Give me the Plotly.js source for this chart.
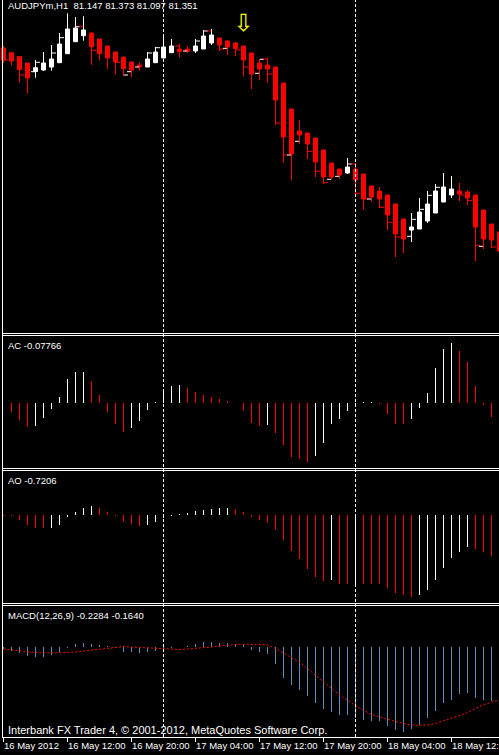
<!DOCTYPE html>
<html><head><meta charset="utf-8">
<script src="https://cdn.plot.ly/plotly-3.0.1.min.js"></script>
<style>html,body{margin:0;padding:0;background:#000;overflow:hidden}#chart{width:499px;height:755px}</style>
</head><body><div id="chart"></div>
<script>
// ---- data ----
const barIndex = Array.from({length: 63}, (_, i) => i);   // hourly bars, 16 May 2012 04:00 -> 18 May 2012 18:00
const timeTickIndex = [0, 8, 16, 24, 32, 40, 48, 56];
const timeTickLabels = ['16 May 2012', '16 May 12:00', '16 May 20:00', '17 May 04:00',
                        '17 May 12:00', '17 May 20:00', '18 May 04:00', '18 May 12:00'];
const daySeparatorIndex = [20, 44];

const openPrice = [81.520,81.473,81.433,81.370,81.285,81.300,81.330,81.373,81.463,81.583,
  81.643,81.670,81.610,81.540,81.480,81.430,81.380,81.350,81.330,81.373,
  81.420,81.473,81.510,81.510,81.490,81.510,81.570,81.620,81.590,81.570,
  81.540,81.470,81.370,81.350,81.330,81.170,80.910,80.690,80.670,80.620,
  80.500,80.370,80.310,80.270,80.310,80.260,80.140,80.090,80.050,79.960,
  79.810,79.700,79.710,79.790,79.870,79.980,80.050,80.090,80.080,80.050,
  79.900,79.760,79.680];
const highPrice = [81.540,81.473,81.440,81.370,81.400,81.480,81.550,81.670,81.867,81.830,
  81.837,81.670,81.610,81.540,81.480,81.430,81.380,81.380,81.480,81.530,
  81.630,81.610,81.560,81.540,81.610,81.700,81.710,81.620,81.600,81.580,
  81.540,81.470,81.410,81.420,81.330,81.170,80.910,80.800,80.670,80.620,
  80.500,80.370,80.310,80.420,80.370,80.260,80.140,80.130,80.050,79.960,
  79.810,79.870,80.020,80.090,80.160,80.270,80.240,80.170,80.100,80.050,
  79.900,79.760,79.680];
const lowPrice = [81.370,81.343,81.175,81.065,81.223,81.290,81.293,81.373,81.463,81.583,
  81.593,81.353,81.400,81.313,81.253,81.240,81.233,81.295,81.330,81.373,
  81.420,81.473,81.423,81.470,81.470,81.510,81.550,81.490,81.450,81.440,
  81.240,81.110,81.200,81.170,80.750,80.370,80.200,80.560,80.410,80.230,
  80.160,80.210,80.210,80.260,80.050,79.900,79.980,79.920,79.700,79.430,
  79.470,79.580,79.710,79.770,79.870,79.980,80.020,79.990,79.950,79.390,
  79.510,79.520,79.400];
const closePrice = [81.400,81.390,81.305,81.220,81.323,81.370,81.410,81.560,81.710,81.720,
  81.700,81.533,81.463,81.420,81.380,81.315,81.300,81.333,81.410,81.480,
  81.530,81.540,81.485,81.487,81.540,81.640,81.650,81.550,81.530,81.515,
  81.400,81.260,81.310,81.310,81.000,80.630,80.460,80.650,80.560,80.380,
  80.230,80.230,80.250,80.330,80.200,80.010,80.030,80.010,79.850,79.660,
  79.610,79.730,79.880,79.960,80.090,80.130,80.110,80.060,80.020,79.730,
  79.610,79.600,79.490];

// small price marks drawn beside some candles (bar, side of the wick, price, up-colour?)
const markIndex = [0,2,4,4,6,7,9,10,11,14,15,16,17,18,19,22,23,24,25,26,27,28,29,30,32,32,33,33,
  34,35,36,37,38,39,40,41,42,43,44,44,45,46,47,48,49,51,51,52,53,54,57,58,59,60,61];
const markSide = ['R','R','L','R','R','R','R','L','R','R','R','L','L','R','R','L','L','R','R','L','R','L','R','R','R','L','L','R',
  'R','R','L','L','R','R','R','L','L','R','L','R','R','L','R','R','R','R','L','R','R','R','R','R','R','L','R'];
const markPrice = [81.400,81.250,81.283,81.377,81.470,81.623,81.733,81.737,81.497,81.377,81.250,81.283,81.330,81.470,81.523,
  81.540,81.490,81.590,81.690,81.690,81.510,81.517,81.500,81.330,81.407,81.267,81.410,81.260,
  80.770,80.450,80.450,80.587,80.487,80.287,80.173,80.207,80.237,80.360,80.360,80.067,80.010,80.010,
  79.927,79.777,79.630,79.807,79.637,79.907,80.047,80.127,80.050,79.997,79.547,79.537,79.530];
const markUp = [0,0,1,1,1,1,1,0,0,0,1,1,1,1,1,0,1,1,1,0,0,1,0,0,1,1,0,0,
  0,0,1,1,0,0,0,1,1,1,0,0,0,1,0,0,0,1,1,1,1,1,0,0,0,1,0];

const signalArrowIndex = [30];
const signalArrowPrice = [81.755];

const acValues = [null,-0.0435,-0.085,-0.1185,-0.1135,-0.075,-0.030,0.030,0.120,0.155,
  0.1565,0.110,0.040,-0.0435,-0.105,-0.1435,-0.1235,-0.0885,-0.035,0.0065,
  0.060,0.085,0.090,0.075,0.055,0.040,0.030,0.020,0.010,0.0015,
  -0.040,-0.0985,-0.1135,-0.1085,-0.1485,-0.2085,-0.2685,-0.2785,-0.2935,-0.2635,
  -0.1985,-0.1035,-0.0785,-0.0385,-0.010,0.0035,0.0045,-0.0025,-0.0535,-0.1035,
  -0.105,-0.0785,-0.0235,0.050,0.175,0.270,0.300,0.260,0.205,0.085,
  -0.0075,-0.0685,-0.07766];

const aoValues = [-0.0083,-0.0132,-0.0776,-0.1601,-0.2096,-0.2145,-0.2096,-0.1601,-0.0281,0.0545,
  0.1205,0.1485,0.1155,0.0545,-0.0116,-0.1106,-0.1485,-0.1766,-0.1601,-0.1205,
  -0.0495,-0.0165,0.0215,0.0380,0.0660,0.0825,0.1040,0.1089,0.1155,0.1040,
  0.0545,-0.0281,-0.0776,-0.1271,-0.2426,-0.4076,-0.5891,-0.7211,-0.8861,-1.0181,
  -1.0841,-1.0676,-1.1336,-1.1385,-1.1303,-1.1352,-1.1385,-1.1418,-1.1996,-1.2821,
  -1.3151,-1.3481,-1.3151,-1.2326,-1.0676,-0.8696,-0.7046,-0.6056,-0.5231,-0.5561,
  -0.6056,-0.6716,-0.7206];

const macdMain = [-0.008,-0.016,-0.024,-0.036,-0.040,-0.040,-0.032,-0.020,-0.004,0.012,
  0.016,0.012,0.008,0.004,-0.004,-0.020,-0.020,-0.024,-0.020,-0.016,
  -0.012,-0.004,0.002,0.004,0.012,0.020,0.020,0.016,0.016,0.012,
  0.012,-0.012,-0.0188,-0.028,-0.0668,-0.124,-0.152,-0.172,-0.196,-0.2228,
  -0.2468,-0.2588,-0.2708,-0.2708,-0.2828,-0.292,-0.2948,-0.2948,-0.3148,-0.3308,
  -0.3388,-0.3268,-0.3132,-0.2828,-0.2548,-0.2228,-0.2108,-0.188,-0.1828,-0.204,
  -0.2108,-0.2148,-0.2284];
const macdSignal = [-0.008,-0.012,-0.016,-0.020,-0.022,-0.024,-0.024,-0.024,-0.022,-0.020,
  -0.016,-0.012,-0.008,-0.004,0.000,0.002,0.000,-0.002,-0.004,-0.006,
  -0.008,-0.010,-0.010,-0.008,-0.006,-0.004,0.000,0.004,0.008,0.010,
  0.0108,0.0108,0.0108,0.0092,-0.006,-0.0228,-0.0428,-0.060,-0.086,-0.112,
  -0.138,-0.164,-0.192,-0.214,-0.2348,-0.254,-0.270,-0.280,-0.290,-0.298,
  -0.306,-0.312,-0.3132,-0.312,-0.306,-0.296,-0.286,-0.274,-0.262,-0.248,
  -0.2308,-0.2212,-0.212];

// ---- drawing ----
const W = 499, H = 755;
const RED = '#ff0000', WHITE = '#ffffff', MACD_BLUE = '#5b8fc0';
const py = p => 1 - p / H;          // pixel row -> paper fraction
const px = p => p / W;
function dirColors(vals) {
  return vals.map((v, i) => (i > 0 && vals[i - 1] !== null && v > vals[i - 1]) ? WHITE : RED);
}
const SIDE_OFFSET = 0.3;

const traces = [
  {type: 'candlestick', x: barIndex, open: openPrice, high: highPrice, low: lowPrice, close: closePrice,
   xaxis: 'x', yaxis: 'y', whiskerwidth: 0, hoverinfo: 'skip',
   increasing: {line: {color: WHITE, width: 1}, fillcolor: WHITE},
   decreasing: {line: {color: RED, width: 1}, fillcolor: RED}},
  {type: 'scatter', mode: 'markers', xaxis: 'x', yaxis: 'y', hoverinfo: 'skip',
   x: markIndex.map((i, k) => i + (markSide[k] === 'R' ? SIDE_OFFSET : -SIDE_OFFSET)), y: markPrice,
   marker: {symbol: 'line-ew', size: 3, line: {width: 1, color: markUp.map(u => u ? WHITE : RED)}}},
  {type: 'scatter', mode: 'text', x: signalArrowIndex, y: signalArrowPrice, text: ['\u21E9'],
   textfont: {family: 'DejaVu Sans', size: 24, color: '#ffff00'}, xaxis: 'x', yaxis: 'y', hoverinfo: 'skip'},
  {type: 'bar', x: barIndex, y: acValues, xaxis: 'x', yaxis: 'y2', width: 0.13,
   marker: {color: dirColors(acValues), line: {width: 0}}, hoverinfo: 'skip'},
  {type: 'bar', x: barIndex, y: aoValues, xaxis: 'x', yaxis: 'y3', width: 0.13,
   marker: {color: dirColors(aoValues), line: {width: 0}}, hoverinfo: 'skip'},
  {type: 'bar', x: barIndex, y: macdMain, xaxis: 'x', yaxis: 'y4', width: 0.13,
   marker: {color: MACD_BLUE, line: {width: 0}}, hoverinfo: 'skip'},
  {type: 'scatter', mode: 'lines', x: barIndex, y: macdSignal, xaxis: 'x', yaxis: 'y4',
   line: {color: RED, width: 1, dash: '2px,2px'}, hoverinfo: 'skip'}
];

const hidden = {visible: false, fixedrange: true, showgrid: false, zeroline: false};
const shapes = [];
daySeparatorIndex.forEach(i => shapes.push({type: 'line', xref: 'x', yref: 'paper', x0: i, x1: i,
  y0: py(737), y1: 1, line: {color: WHITE, width: 1, dash: '3px,2px'}, layer: 'above'}));
[333.5, 335.5, 468.5, 470.5, 603.5, 605.5, 737.5].forEach(r => shapes.push({type: 'line', xref: 'paper',
  yref: 'paper', x0: px(2), x1: 1, y0: py(r), y1: py(r), line: {color: WHITE, width: 1}}));
shapes.push({type: 'line', xref: 'paper', yref: 'paper', x0: px(2.5), x1: px(2.5), y0: py(737.5), y1: 1,
  line: {color: WHITE, width: 1}});

const lab = (txt, row, size) => ({text: txt, xref: 'paper', yref: 'paper', x: px(6), y: py(row),
  xanchor: 'left', yanchor: 'middle', showarrow: false,
  font: {family: 'Liberation Sans', size: size, color: WHITE}});

const layout = {
  width: W, height: H, margin: {l: 0, r: 0, t: 0, b: 0, pad: 0},
  paper_bgcolor: '#000', plot_bgcolor: '#000', showlegend: false,
  boxgap: 0.5, boxgroupgap: 0, bargap: 0,
  xaxis: {range: [-0.4375, 61.9375], domain: [0, 1], anchor: 'y4', fixedrange: true,
    showgrid: false, zeroline: false, showline: false,
    tickmode: 'array', tickvals: timeTickIndex, ticktext: timeTickLabels,
    ticks: 'outside', ticklen: 4, tickwidth: 1, tickcolor: WHITE, tickangle: 0,
    ticklabelposition: 'outside right', ticklabelstandoff: 0, ticklabeloverflow: 'allow',
    tickfont: {family: 'Liberation Sans', size: 9.5, color: WHITE},
    rangeslider: {visible: false}},
  yaxis: Object.assign({domain: [py(333), 1], range: [78.67, 82.00], anchor: 'x'}, hidden),
  yaxis2: Object.assign({domain: [py(468), py(335)], range: [-0.325, 0.34], anchor: 'x'}, hidden),
  yaxis3: Object.assign({domain: [py(603), py(470)], range: [-1.452, 0.7425], anchor: 'x'}, hidden),
  yaxis4: Object.assign({domain: [py(737), py(605)], range: [-0.36, 0.168], anchor: 'x'}, hidden),
  shapes: shapes,
  annotations: [
    lab('AUDJPYm,H1\u00a0 81.147 81.373 81.097 81.351', 5, 9.5),
    lab('AC -0.07766', 345.5, 9.5),
    lab('AO -0.7206', 480.5, 9.5),
    lab('MACD(12,26,9) -0.2284 -0.1640', 615.5, 9.5),
    lab('Interbank FX Trader 4, \u00a9 2001-2012, MetaQuotes Software Corp.', 730, 11)
  ]
};

Plotly.newPlot('chart', traces, layout, {staticPlot: true, displayModeBar: false});
</script>
</body></html>
